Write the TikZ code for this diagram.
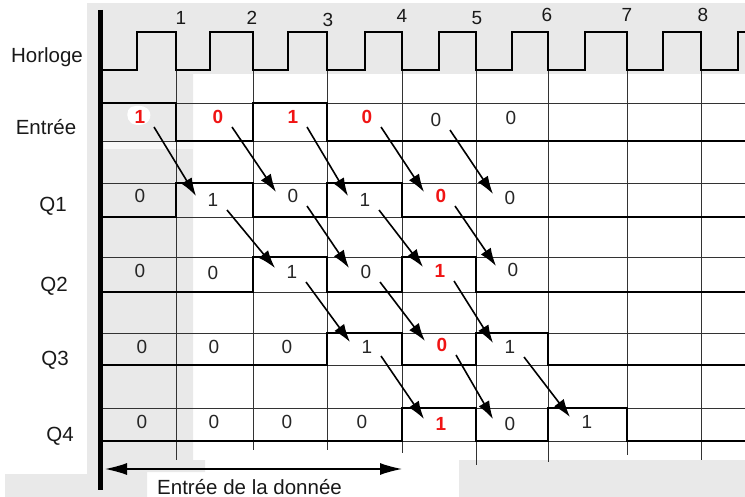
\documentclass[tikz,border=0pt]{standalone}
\usepackage{fontspec}
\setmainfont{Liberation Sans}
\usetikzlibrary{arrows.meta}
\definecolor{bgg}{RGB}{233,233,233}
\definecolor{vred}{RGB}{240,20,20}
\begin{document}
\begin{tikzpicture}[x=1pt,y=-1pt,
  lab/.style={font=\fontsize{20.5}{22}\selectfont, anchor=base, inner sep=0pt, text=black!90},
  val/.style={font=\fontsize{19}{21}\selectfont, anchor=base, inner sep=0pt, text=black!85},
  rval/.style={font=\fontsize{19}{21}\selectfont\bfseries, anchor=base, inner sep=0pt, text=vred},
  num/.style={font=\fontsize{19}{21}\selectfont, anchor=base, inner sep=0pt, text=black!90},
  gridline/.style={line width=0.9pt, black!80},
  sig/.style={line width=2.9pt, black},
  arr/.style={line width=1.6pt, -{Latex[length=18pt,width=12pt]}},
  src/.style={xshift=14pt,yshift=-3pt},
  tgt/.style={xshift=-17pt,yshift=11pt},
]
\useasboundingbox (0,0) rectangle (745,497);
% backgrounds
\fill[bgg] (87,3) rectangle (745,74);
\fill[bgg] (87,74) -- (193,74) -- (193,460) -- (205,460) -- (205,472) -- (147,472)
  -- (147,497) -- (5,497) -- (5,474) -- (87,474) -- cycle;
\fill[bgg] (459,460) rectangle (745,497);
\fill[white] (131,107) .. controls (145,103) and (152,110) .. (150,118)
  .. controls (148,125) and (138,127) .. (131,123) .. controls (126,119) and (126,110) .. (131,107);
\fill[white!70!bgg] (104,142) rectangle (193,149);
% grid
\foreach \x/\yb in {176/460,253/450,327/450,402/453,476/465,548/462,627/455,701/460}
  \draw[gridline] (\x,70) -- (\x,\yb);
\foreach \y in {103,141,183,217,257,292,333,365,408,441}
  \draw[gridline] (100,\y) -- (745,\y);
% clock
\draw[sig] (100,70) -- (137,70) -- (137,32) -- (176,32) -- (176,70)
  -- (210,70) -- (210,32) -- (253,32) -- (253,70)
  -- (288,70) -- (288,32) -- (327,32) -- (327,70)
  -- (365,70) -- (365,32) -- (402,32) -- (402,70)
  -- (439,70) -- (439,32) -- (476,32) -- (476,70)
  -- (512,70) -- (512,32) -- (548,32) -- (548,70)
  -- (585,70) -- (585,32) -- (627,32) -- (627,70)
  -- (663,70) -- (663,32) -- (701,32) -- (701,70)
  -- (738,70) -- (738,32) -- (745,32);
% signals
\draw[sig] (100,103) -| (176,141) -| (253,103) -| (327,141) -- (745,141);
\draw[sig] (100,217) -| (176,183) -| (253,217) -| (327,183) -| (402,217) -- (745,217);
\draw[sig] (100,292) -| (253,257) -| (327,292) -| (402,257) -| (476,292) -- (745,292);
\draw[sig] (100,365) -| (327,333) -| (402,365) -| (476,333) -| (548,365) -- (745,365);
\draw[sig] (100,441) -| (402,408) -| (476,441) -| (548,408) -| (627,441) -- (745,441);
% axis
\draw[line width=5pt] (100,10) -- (100,490);
% labels
\node[lab] (lh) at (47,63) {Horloge};
\node[lab] (le) at (46,135) {Entrée};
\node[lab] (l1) at (53,212) {Q1};
\node[lab] (l2) at (54,292) {Q2};
\node[lab] (l3) at (55,365) {Q3};
\node[lab] (l4) at (60,441) {Q4};
% clock numbers
\node[num] (n1) at (181,25) {1};
\node[num] (n2) at (252,25) {2};
\node[num] (n3) at (328,27) {3};
\node[num] (n4) at (402,23) {4};
\node[num] (n5) at (477,25) {5};
\node[num] (n6) at (547,22) {6};
\node[num] (n7) at (627,22) {7};
\node[num] (n8) at (703,22) {8};
% values: Entrée
\node[rval] (e1) at (140,124) {1};
\node[rval] (e2) at (218,124) {0};
\node[rval] (e3) at (293,124) {1};
\node[rval] (e4) at (367,124) {0};
\node[val] (e5) at (436,127) {0};
\node[val] (e6) at (511,125) {0};
% Q1
\node[val] (a1) at (140,203) {0};
\node[val] (a2) at (213,207) {1};
\node[val] (a3) at (293,203) {0};
\node[val] (a4) at (365,207) {1};
\node[rval] (a5) at (441,203) {0};
\node[val] (a6) at (510,205) {0};
% Q2
\node[val] (b1) at (140,278) {0};
\node[val] (b2) at (213,280) {0};
\node[val] (b3) at (292,279) {1};
\node[val] (b4) at (366,279) {0};
\node[rval] (b5) at (440,278) {1};
\node[val] (b6) at (513,277) {0};
% Q3
\node[val] (c1) at (142,353) {0};
\node[val] (c2) at (214,353) {0};
\node[val] (c3) at (287,353) {0};
\node[val] (c4) at (367,353) {1};
\node[rval] (c5) at (442,352) {0};
\node[val] (c6) at (510,354) {1};
% Q4
\node[val] (d1) at (142,428) {0};
\node[val] (d2) at (214,428) {0};
\node[val] (d3) at (287,428) {0};
\node[val] (d4) at (362,428) {0};
\node[rval] (d5) at (441,430) {1};
\node[val] (d6) at (510,430) {0};
\node[val] (d7) at (587,428) {1};
% arrows
\foreach \s/\t in {e1/a2,e2/a3,e3/a4,e4/a5,e5/a6,a2/b3,a3/b4,a4/b5,a5/b6,b3/c4,b4/c5,b5/c6,c4/d5,c5/d6,c6/d7}
  \draw[arr] ([src]\s.base) -- ([tgt]\t.base);
% bottom arrow
\coordinate (la) at (105,469);
\coordinate (ra) at (402,469);
\draw[line width=1.4pt, {Latex[length=22pt,width=12pt]}-{Latex[length=22pt,width=12pt]}] (la) -- (ra);
\node[lab, anchor=base west] (ld) at (157,494) {Entrée de la donnée};
\end{tikzpicture}
\end{document}
